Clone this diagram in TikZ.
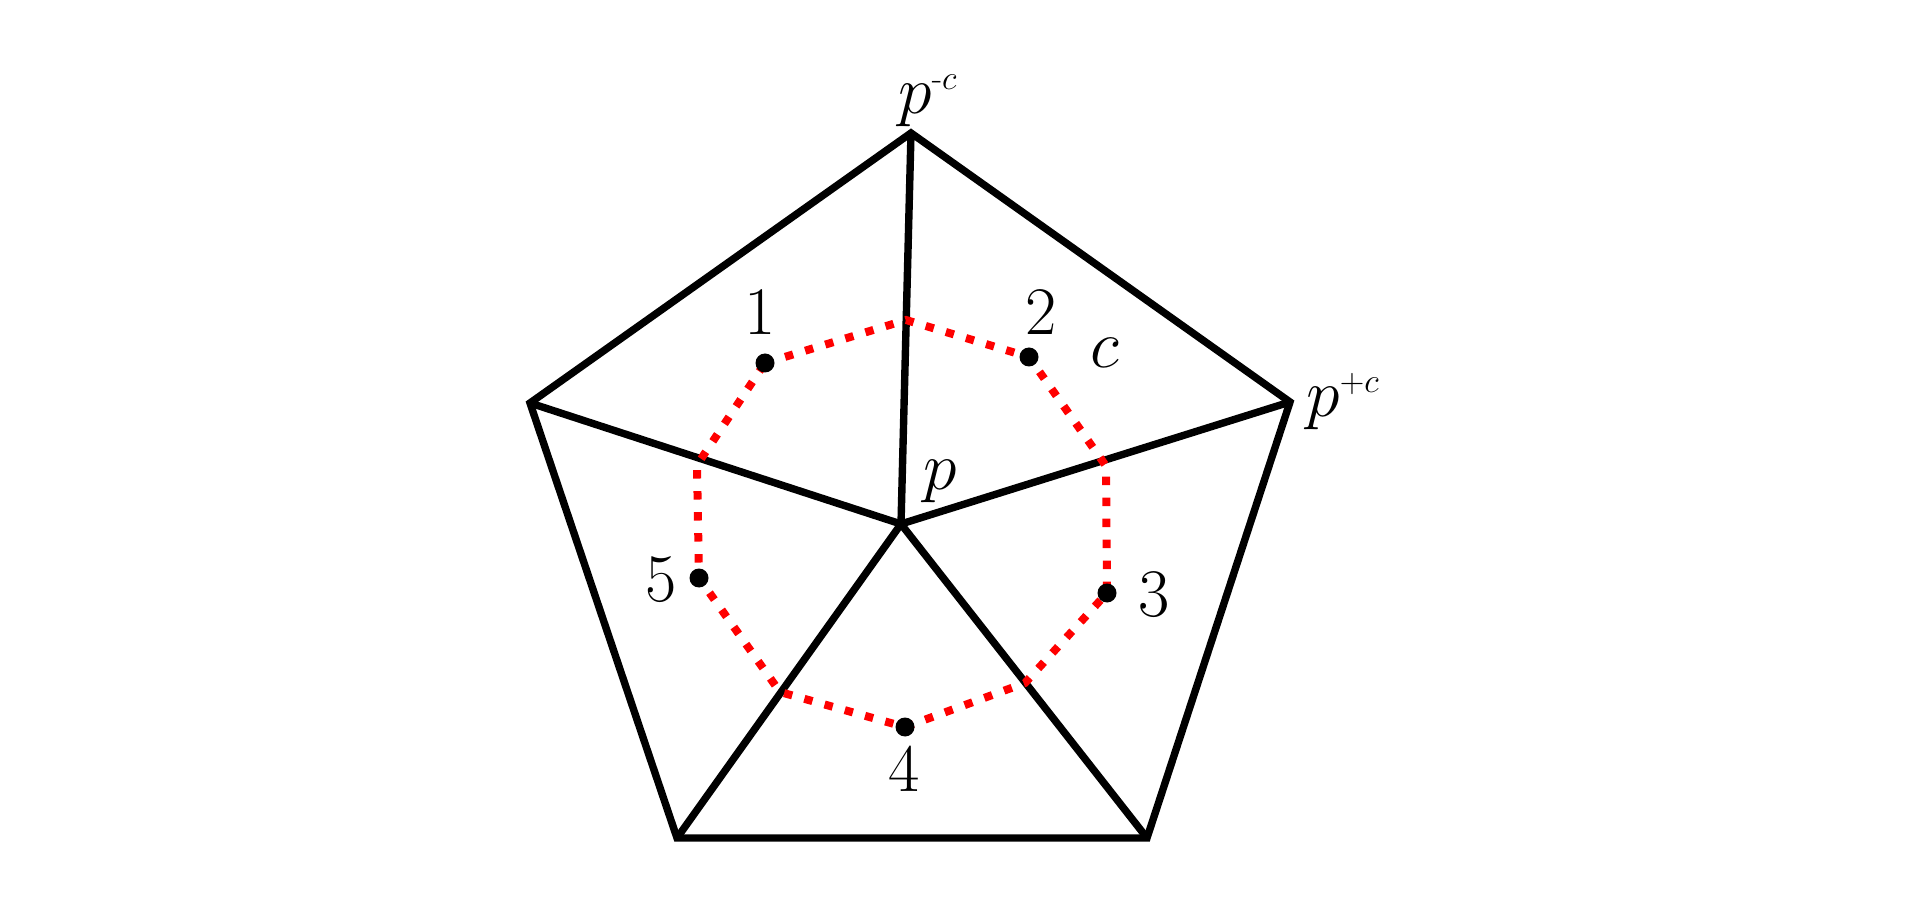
\RequirePackage{fix-cm}
\documentclass[tikz,border=0pt]{standalone}
\usepackage{amsmath}
\begin{document}
\begin{tikzpicture}[x=0.5pt,y=-0.5pt,
  edge/.style={line width=3.7pt, line join=miter},
  dual/.style={red, line width=4pt, dash pattern=on 4.2pt off 6.3pt},
  pt/.style={circle, fill=black, inner sep=0pt, minimum size=9.5pt},
  lbl/.style={inner sep=0pt, font=\fontsize{34}{40}\selectfont}]
\useasboundingbox (0,0) rectangle (1923,898);
% mesh vertices
\coordinate (P) at (901,524);
\coordinate (T) at (911,133);
\coordinate (R) at (1290,402);
\coordinate (BR) at (1147,838);
\coordinate (BL) at (677,838);
\coordinate (L) at (530,403);
\draw[edge] (T) -- (R) -- (BR) -- (BL) -- (L) -- cycle;
\foreach \v in {T,R,BR,BL,L} \draw[edge] (P) -- (\v);
% dual cell
\coordinate (mT) at (906,320);
\coordinate (mR) at (1106,466);
\coordinate (mBR) at (1025,683);
\coordinate (mBL) at (780,692);
\coordinate (mL) at (697,465);
\coordinate (d1) at (765,363);
\coordinate (d2) at (1029,357);
\coordinate (d3) at (1107,593);
\coordinate (d4) at (905,727);
\coordinate (d5) at (699,578);
\draw[dual] (d1) -- (mT) -- (d2) -- (mR) -- (d3) -- (mBR) -- (d4) -- (mBL) -- (d5) -- (mL) -- cycle;
\node[pt] (n1) at (d1) {};
\node[pt] (n2) at (d2) {};
\node[pt] (n3) at (d3) {};
\node[pt] (n4) at (d4) {};
\node[pt] (n5) at (d5) {};
% labels
\node[lbl] (l1) at (760,313) {$1$};
\node[lbl] (l2) at (1041,313) {$2$};
\node[lbl] (l3) at (1154,595) {$3$};
\node[lbl] (l4) at (904,770) {$4$};
\node[lbl] (l5) at (661,580) {$5$};
\node[lbl] (lc) at (1105,353) {$c$};
\node[lbl] (lp) at (940,481) {$p$};
\node[lbl, anchor=base west] (lpm) at (898,114) {$p^{\scriptscriptstyle\text{-}c}$};
\node[lbl, anchor=base west] (lpp) at (1306,417) {$p^{\scriptscriptstyle +c}$};
\end{tikzpicture}
\end{document}
